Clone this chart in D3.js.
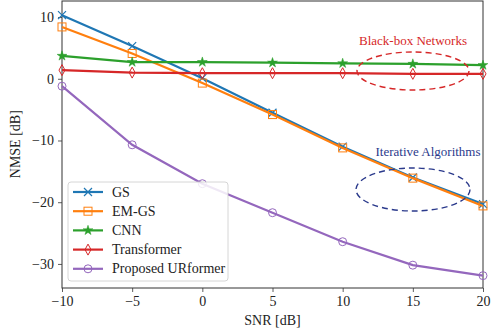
<!DOCTYPE html>
<html>
<head>
<meta charset="utf-8">
<script src="https://cdn.jsdelivr.net/npm/d3@7"></script>
<style>
  body { margin: 0; background: #fff; }
  svg text { font-family: "Times New Roman", "Liberation Serif", Times, serif !important; }
</style>
</head>
<body>
<div id="chart"></div>
<script>
// data
var snr = [-10, -5, 0, 5, 10, 15, 20];
var gs = [10.3, 5.3, 0.1, -5.5, -11.0, -16.0, -20.3];
var emgs = [8.4, 4.1, -0.7, -5.8, -11.2, -16.1, -20.6];
var cnn = [3.7, 2.7, 2.7, 2.6, 2.5, 2.4, 2.2];
var transformer = [1.4, 1.0, 0.9, 0.9, 0.9, 0.8, 0.8];
var urformer = [-1.2, -10.7, -17.0, -21.7, -26.4, -30.2, -31.9];
var xTicks = [-10, -5, 0, 5, 10, 15, 20];
var yTicks = [-30, -20, -10, 0, 10];

var svgWidth = 498;
var svgHeight = 333;
var margin = {top: 1, right: 15, bottom: 45, left: 62};

var svg = d3.select("#chart")
  .append("svg")
  .attr("width", svgWidth)
  .attr("height", svgHeight);

var xScale = d3.scaleLinear()
  .domain([-10, 20])
  .range([margin.left, svgWidth - margin.right]);

var yScale = d3.scaleLinear()
  .domain([-33.9, 12.6])
  .range([svgHeight - margin.bottom, margin.top]);

var minus = function(v) { return String(v).replace("-", "\u2212"); };

// axes
var bottomAxis = d3.axisBottom(xScale).tickValues(xTicks).tickSize(4).tickPadding(4).tickFormat(minus);
var leftAxis = d3.axisLeft(yScale).tickValues(yTicks).tickSize(4).tickPadding(4).tickFormat(minus);

svg.append("g")
  .attr("class", "bottomAxis")
  .attr("transform", "translate(0," + (svgHeight - margin.bottom) + ")")
  .call(bottomAxis);
svg.append("g")
  .attr("class", "leftAxis")
  .attr("transform", "translate(" + margin.left + ",0)")
  .call(leftAxis);

svg.selectAll(".domain").remove();
svg.selectAll(".tick line").attr("stroke", "#333").attr("stroke-width", 0.8);
svg.selectAll(".tick text").attr("font-size", 14).attr("fill", "#222");

// frame
svg.append("rect")
  .attr("x", xScale(-10)).attr("y", yScale(12.6))
  .attr("width", xScale(20) - xScale(-10))
  .attr("height", yScale(-33.9) - yScale(12.6))
  .attr("fill", "none").attr("stroke", "#333").attr("stroke-width", 1);

// axis labels
svg.append("text")
  .attr("x", xScale(5)).attr("y", 325)
  .attr("text-anchor", "middle").attr("font-size", 14).attr("fill", "#222")
  .text("SNR [dB]");
svg.append("text")
  .attr("transform", "translate(20," + yScale(-10.6) + ")rotate(-90)")
  .attr("text-anchor", "middle").attr("font-size", 14).attr("fill", "#222")
  .text("NMSE [dB]");

var series = [
  {name: "GS", values: gs, color: "#1f77b4", marker: "x"},
  {name: "EM-GS", values: emgs, color: "#ff7f0e", marker: "square"},
  {name: "CNN", values: cnn, color: "#2ca02c", marker: "star"},
  {name: "Transformer", values: transformer, color: "#d62728", marker: "diamond"},
  {name: "Proposed URformer", values: urformer, color: "#9467bd", marker: "circle"}
];

var plot = svg.append("g");
plot.append("clipPath").attr("id", "clip")
  .append("rect")
  .attr("x", xScale(-10) - 8).attr("y", yScale(12.6))
  .attr("width", xScale(20) - xScale(-10) + 16)
  .attr("height", yScale(-33.9) - yScale(12.6));

var line = d3.line()
  .x(function(d, i) { return xScale(snr[i]); })
  .y(function(d) { return yScale(d); });

function drawMarker(g, type, color) {
  if (type === "x") {
    g.append("path").attr("d", "M-4,-4L4,4M-4,4L4,-4")
      .attr("stroke", color).attr("stroke-width", 1.2).attr("fill", "none");
  } else if (type === "square") {
    g.append("rect").attr("x", -4).attr("y", -4).attr("width", 8).attr("height", 8)
      .attr("fill", "none").attr("stroke", color).attr("stroke-width", 1);
  } else if (type === "star") {
    g.append("path").attr("d", d3.symbol().type(d3.symbolStar).size(30)())
      .attr("fill", color).attr("stroke", color).attr("stroke-width", 0.5);
  } else if (type === "diamond") {
    g.append("path").attr("d", "M0,-5.5L3,0L0,5.5L-3,0Z")
      .attr("fill", "none").attr("stroke", color).attr("stroke-width", 1);
  } else if (type === "circle") {
    g.append("circle").attr("r", 4)
      .attr("fill", "none").attr("stroke", color).attr("stroke-width", 1);
  }
}

series.forEach(function(s) {
  var g = plot.append("g").attr("clip-path", "url(#clip)");
  g.append("path")
    .datum(s.values)
    .attr("d", line)
    .attr("fill", "none")
    .attr("stroke", s.color)
    .attr("stroke-width", 2.2);
  s.values.forEach(function(v, i) {
    var m = g.append("g")
      .attr("transform", "translate(" + xScale(snr[i]) + "," + yScale(v) + ")");
    drawMarker(m, s.marker, s.color);
  });
});

// annotations
svg.append("text")
  .attr("x", 413).attr("y", 45)
  .attr("text-anchor", "middle").attr("font-size", 13).attr("fill", "#d62728")
  .text("Black-box Networks");
svg.append("ellipse")
  .attr("cx", 413).attr("cy", 71).attr("rx", 56).attr("ry", 19)
  .attr("fill", "none").attr("stroke", "#d62728").attr("stroke-width", 1.4)
  .attr("stroke-dasharray", "6,4");

svg.append("text")
  .attr("x", 428).attr("y", 156)
  .attr("text-anchor", "middle").attr("font-size", 13).attr("fill", "#2b3a8c")
  .text("Iterative Algorithms");
svg.append("ellipse")
  .attr("cx", 413).attr("cy", 189.5).attr("rx", 57).attr("ry", 21.5)
  .attr("fill", "none").attr("stroke", "#2b3a8c").attr("stroke-width", 1.4)
  .attr("stroke-dasharray", "6,4");

// legend
var legend = svg.append("g").attr("transform", "translate(68,182)");
legend.append("rect")
  .attr("width", 160).attr("height", 99).attr("rx", 3)
  .attr("fill", "#fff").attr("fill-opacity", 0.85)
  .attr("stroke", "#ccc").attr("stroke-width", 0.8);

series.forEach(function(s, i) {
  var row = legend.append("g").attr("transform", "translate(0," + (10 + i * 19.2) + ")");
  row.append("line")
    .attr("x1", 5).attr("x2", 35).attr("y1", 0).attr("y2", 0)
    .attr("stroke", s.color).attr("stroke-width", 2.2);
  var m = row.append("g").attr("transform", "translate(20,0)");
  drawMarker(m, s.marker, s.color);
  row.append("text")
    .attr("x", 44).attr("y", 4.5)
    .attr("font-size", 14).attr("fill", "#222")
    .text(s.name);
});
</script>
</body>
</html>
